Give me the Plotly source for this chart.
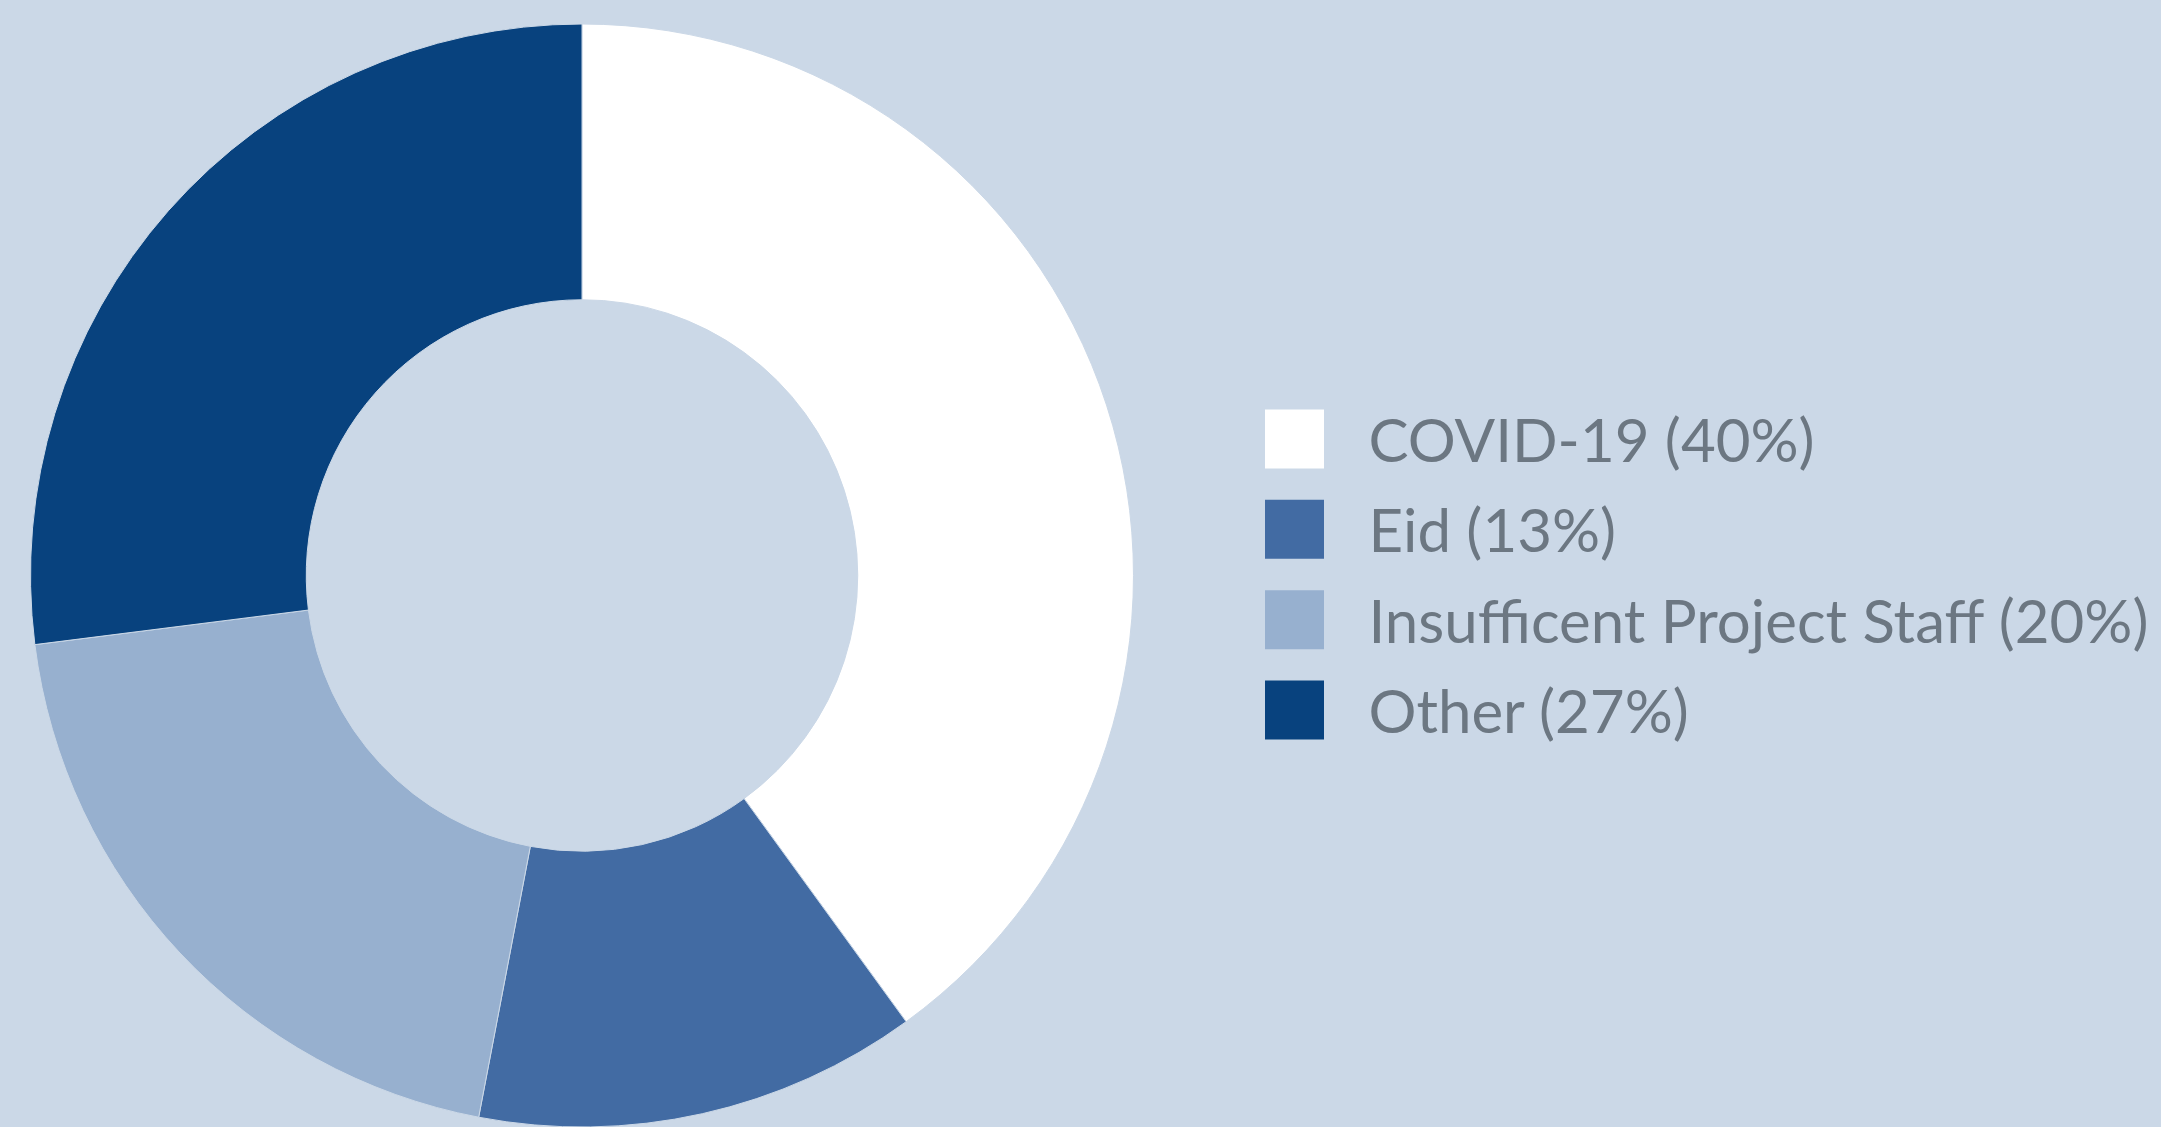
import plotly.graph_objects as go

# Data
categories = ["COVID-19", "Eid", "Insufficent Project Staff", "Other"]
shares = [40, 13, 20, 27]
colors = ["#ffffff", "#426ba3", "#97b0cf", "#08427e"]

legend_labels = [f"{c} ({v}%)" for c, v in zip(categories, shares)]

BG = "#cbd8e7"
TEXT = "#6c7782"
W, H = 2161, 1127

fig = go.Figure()

fig.add_trace(go.Pie(
    labels=categories,
    values=shares,
    hole=0.5,
    sort=False,
    direction="clockwise",
    rotation=0,
    marker=dict(colors=colors, line=dict(color=BG, width=1)),
    textinfo="none",
    hoverinfo="label+percent",
    showlegend=False,
    domain=dict(x=[0, 1164 / W], y=[0, 1 - 24 / H]),
))

# Custom legend (large squares + labels)
fig.add_trace(go.Scatter(
    x=[0] * len(categories),
    y=categories,
    mode="markers",
    marker=dict(symbol="square", size=59, color=colors, line=dict(width=0)),
    hoverinfo="skip",
    showlegend=False,
    xaxis="x", yaxis="y",
))
fig.add_trace(go.Scatter(
    x=[74] * len(categories),
    y=categories,
    mode="text",
    text=legend_labels,
    textposition="middle right",
    textfont=dict(family="Lato", size=60, color=TEXT),
    hoverinfo="skip",
    showlegend=False,
    xaxis="x", yaxis="y2",
))

px_per_row = 90.33
top_val = -439 / px_per_row
bot_val = top_val + H / px_per_row
shift = 8 / px_per_row

fig.update_layout(
    width=W, height=H,
    margin=dict(l=0, r=0, t=0, b=0),
    paper_bgcolor=BG,
    plot_bgcolor=BG,
    font=dict(family="Lato", color=TEXT),
    xaxis=dict(domain=[0.5, 1], range=[-(1294.5 - W * 0.5), W - 1294.5],
               visible=False, fixedrange=True),
    yaxis=dict(domain=[0, 1], type="category", range=[bot_val, top_val],
               visible=False, fixedrange=True),
    yaxis2=dict(domain=[0, 1], type="category", overlaying="y",
                range=[bot_val - shift, top_val - shift],
                visible=False, fixedrange=True),
    showlegend=False,
)

fig.write_html("out.html")
